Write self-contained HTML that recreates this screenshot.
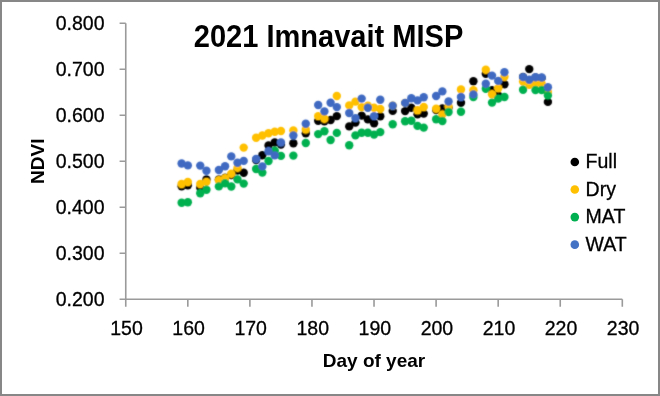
<!DOCTYPE html>
<html><head><meta charset="utf-8"><style>html,body{margin:0;padding:0;background:#fff;}svg{display:block;will-change:transform;}</style></head>
<body><svg width="660" height="396" viewBox="0 0 660 396">
<defs><filter id="bl" x="0" y="0" width="660" height="396" filterUnits="userSpaceOnUse"><feConvolveMatrix order="3" kernelMatrix="0.025 0.1 0.025 0.1 0.5 0.1 0.025 0.1 0.025"/></filter></defs>
<rect x="0" y="0" width="660" height="396" fill="#ffffff"/>
<rect x="1" y="1" width="658" height="394" fill="none" stroke="#878787" stroke-width="2"/>
<path d="M125.75 23.3V299.3H622.3" fill="none" stroke="#9a9a9a" stroke-width="1.6"/><path d="M119.6 299.30H125.75 M119.6 253.30H125.75 M119.6 207.30H125.75 M119.6 161.30H125.75 M119.6 115.30H125.75 M119.6 69.30H125.75 M119.6 23.30H125.75 M125.75 299.3V306.8 M187.82 299.3V306.8 M249.89 299.3V306.8 M311.96 299.3V306.8 M374.03 299.3V306.8 M436.10 299.3V306.8 M498.17 299.3V306.8 M560.24 299.3V306.8 M622.31 299.3V306.8" fill="none" stroke="#9a9a9a" stroke-width="1.6"/>
<g font-family="Liberation Sans, sans-serif" font-size="19.5" fill="#000" stroke="#000" stroke-width="0.3">
<text x="104.5" y="306.30" text-anchor="end">0.200</text><text x="104.5" y="260.30" text-anchor="end">0.300</text><text x="104.5" y="214.30" text-anchor="end">0.400</text><text x="104.5" y="168.30" text-anchor="end">0.500</text><text x="104.5" y="122.30" text-anchor="end">0.600</text><text x="104.5" y="76.30" text-anchor="end">0.700</text><text x="104.5" y="30.30" text-anchor="end">0.800</text>
<text x="126.55" y="334.6" text-anchor="middle">150</text><text x="188.62" y="334.6" text-anchor="middle">160</text><text x="250.69" y="334.6" text-anchor="middle">170</text><text x="312.76" y="334.6" text-anchor="middle">180</text><text x="374.83" y="334.6" text-anchor="middle">190</text><text x="436.90" y="334.6" text-anchor="middle">200</text><text x="498.97" y="334.6" text-anchor="middle">210</text><text x="561.04" y="334.6" text-anchor="middle">220</text><text x="623.11" y="334.6" text-anchor="middle">230</text>
<circle cx="574.8" cy="162.00" r="4.3" fill="#000000" stroke="none"/><text x="585.6" y="168.30">Full</text><circle cx="574.8" cy="189.55" r="4.3" fill="#FFC000" stroke="none"/><text x="585.6" y="195.85">Dry</text><circle cx="574.8" cy="217.10" r="4.3" fill="#00B050" stroke="none"/><text x="585.6" y="223.40">MAT</text><circle cx="574.8" cy="244.65" r="4.3" fill="#4472C4" stroke="none"/><text x="585.6" y="250.95">WAT</text>
</g>
<text transform="translate(0 47.1) scale(1 1.045) translate(0 -47.1)" x="193.8" y="47.1" textLength="269.5" lengthAdjust="spacingAndGlyphs" font-family="Liberation Sans, sans-serif" font-weight="bold" font-size="29.3" fill="#000">2021 Imnavait MISP</text>
<text x="374" y="366.6" text-anchor="middle" font-family="Liberation Sans, sans-serif" font-weight="bold" font-size="19" fill="#000">Day of year</text>
<text transform="translate(43.6 161.2) rotate(-90)" text-anchor="middle" font-family="Liberation Sans, sans-serif" font-weight="bold" font-size="19" fill="#000">NDVI</text>
<g filter="url(#bl)">
<circle cx="181.62" cy="186.30" r="4.2" fill="#000000"/>
<circle cx="187.83" cy="185.20" r="4.2" fill="#000000"/>
<circle cx="200.25" cy="187.70" r="4.2" fill="#000000"/>
<circle cx="206.45" cy="179.50" r="4.2" fill="#000000"/>
<circle cx="218.87" cy="179.50" r="4.2" fill="#000000"/>
<circle cx="225.08" cy="177.60" r="4.2" fill="#000000"/>
<circle cx="231.29" cy="175.00" r="4.2" fill="#000000"/>
<circle cx="237.49" cy="170.50" r="4.2" fill="#000000"/>
<circle cx="243.70" cy="172.70" r="4.2" fill="#000000"/>
<circle cx="256.12" cy="160.00" r="4.2" fill="#000000"/>
<circle cx="262.33" cy="155.20" r="4.2" fill="#000000"/>
<circle cx="268.53" cy="145.50" r="4.2" fill="#000000"/>
<circle cx="274.74" cy="142.50" r="4.2" fill="#000000"/>
<circle cx="280.95" cy="144.50" r="4.2" fill="#000000"/>
<circle cx="293.37" cy="143.20" r="4.2" fill="#000000"/>
<circle cx="305.78" cy="133.20" r="4.2" fill="#000000"/>
<circle cx="318.20" cy="120.70" r="4.2" fill="#000000"/>
<circle cx="324.41" cy="121.20" r="4.2" fill="#000000"/>
<circle cx="330.61" cy="120.00" r="4.2" fill="#000000"/>
<circle cx="336.82" cy="116.10" r="4.2" fill="#000000"/>
<circle cx="349.24" cy="126.40" r="4.2" fill="#000000"/>
<circle cx="355.45" cy="122.50" r="4.2" fill="#000000"/>
<circle cx="361.65" cy="115.60" r="4.2" fill="#000000"/>
<circle cx="367.86" cy="119.40" r="4.2" fill="#000000"/>
<circle cx="374.07" cy="123.20" r="4.2" fill="#000000"/>
<circle cx="380.28" cy="116.20" r="4.2" fill="#000000"/>
<circle cx="392.69" cy="110.90" r="4.2" fill="#000000"/>
<circle cx="405.11" cy="111.10" r="4.2" fill="#000000"/>
<circle cx="411.32" cy="107.80" r="4.2" fill="#000000"/>
<circle cx="417.53" cy="114.20" r="4.2" fill="#000000"/>
<circle cx="423.73" cy="113.60" r="4.2" fill="#000000"/>
<circle cx="436.15" cy="110.00" r="4.2" fill="#000000"/>
<circle cx="442.36" cy="108.40" r="4.2" fill="#000000"/>
<circle cx="448.57" cy="107.80" r="4.2" fill="#000000"/>
<circle cx="460.98" cy="102.80" r="4.2" fill="#000000"/>
<circle cx="473.40" cy="81.30" r="4.2" fill="#000000"/>
<circle cx="485.81" cy="73.80" r="4.2" fill="#000000"/>
<circle cx="492.02" cy="90.30" r="4.2" fill="#000000"/>
<circle cx="498.23" cy="95.40" r="4.2" fill="#000000"/>
<circle cx="504.44" cy="84.20" r="4.2" fill="#000000"/>
<circle cx="523.06" cy="77.00" r="4.2" fill="#000000"/>
<circle cx="529.27" cy="69.10" r="4.2" fill="#000000"/>
<circle cx="535.48" cy="77.50" r="4.2" fill="#000000"/>
<circle cx="541.69" cy="78.00" r="4.2" fill="#000000"/>
<circle cx="547.89" cy="101.90" r="4.2" fill="#000000"/>
<circle cx="181.62" cy="184.00" r="4.2" fill="#FFC000"/>
<circle cx="187.83" cy="182.00" r="4.2" fill="#FFC000"/>
<circle cx="200.25" cy="184.00" r="4.2" fill="#FFC000"/>
<circle cx="206.45" cy="181.90" r="4.2" fill="#FFC000"/>
<circle cx="218.87" cy="180.20" r="4.2" fill="#FFC000"/>
<circle cx="225.08" cy="178.20" r="4.2" fill="#FFC000"/>
<circle cx="231.29" cy="173.70" r="4.2" fill="#FFC000"/>
<circle cx="237.49" cy="167.90" r="4.2" fill="#FFC000"/>
<circle cx="243.70" cy="147.60" r="4.2" fill="#FFC000"/>
<circle cx="256.12" cy="137.80" r="4.2" fill="#FFC000"/>
<circle cx="262.33" cy="135.50" r="4.2" fill="#FFC000"/>
<circle cx="268.53" cy="133.20" r="4.2" fill="#FFC000"/>
<circle cx="274.74" cy="131.70" r="4.2" fill="#FFC000"/>
<circle cx="280.95" cy="131.00" r="4.2" fill="#FFC000"/>
<circle cx="293.37" cy="130.40" r="4.2" fill="#FFC000"/>
<circle cx="305.78" cy="129.50" r="4.2" fill="#FFC000"/>
<circle cx="318.20" cy="116.10" r="4.2" fill="#FFC000"/>
<circle cx="324.41" cy="118.70" r="4.2" fill="#FFC000"/>
<circle cx="336.82" cy="96.00" r="4.2" fill="#FFC000"/>
<circle cx="349.24" cy="105.40" r="4.2" fill="#FFC000"/>
<circle cx="355.45" cy="101.60" r="4.2" fill="#FFC000"/>
<circle cx="361.65" cy="107.10" r="4.2" fill="#FFC000"/>
<circle cx="367.86" cy="105.80" r="4.2" fill="#FFC000"/>
<circle cx="374.07" cy="107.80" r="4.2" fill="#FFC000"/>
<circle cx="380.28" cy="108.90" r="4.2" fill="#FFC000"/>
<circle cx="392.69" cy="105.80" r="4.2" fill="#FFC000"/>
<circle cx="405.11" cy="102.90" r="4.2" fill="#FFC000"/>
<circle cx="417.53" cy="110.30" r="4.2" fill="#FFC000"/>
<circle cx="423.73" cy="107.00" r="4.2" fill="#FFC000"/>
<circle cx="436.15" cy="108.70" r="4.2" fill="#FFC000"/>
<circle cx="442.36" cy="114.40" r="4.2" fill="#FFC000"/>
<circle cx="448.57" cy="106.50" r="4.2" fill="#FFC000"/>
<circle cx="460.98" cy="89.50" r="4.2" fill="#FFC000"/>
<circle cx="473.40" cy="90.30" r="4.2" fill="#FFC000"/>
<circle cx="485.81" cy="69.80" r="4.2" fill="#FFC000"/>
<circle cx="492.02" cy="94.20" r="4.2" fill="#FFC000"/>
<circle cx="498.23" cy="88.20" r="4.2" fill="#FFC000"/>
<circle cx="504.44" cy="76.80" r="4.2" fill="#FFC000"/>
<circle cx="523.06" cy="81.60" r="4.2" fill="#FFC000"/>
<circle cx="529.27" cy="84.80" r="4.2" fill="#FFC000"/>
<circle cx="535.48" cy="83.50" r="4.2" fill="#FFC000"/>
<circle cx="541.69" cy="83.80" r="4.2" fill="#FFC000"/>
<circle cx="547.89" cy="92.00" r="4.2" fill="#FFC000"/>
<circle cx="181.62" cy="202.80" r="4.2" fill="#00B050"/>
<circle cx="187.83" cy="202.20" r="4.2" fill="#00B050"/>
<circle cx="200.25" cy="193.20" r="4.2" fill="#00B050"/>
<circle cx="206.45" cy="189.80" r="4.2" fill="#00B050"/>
<circle cx="218.87" cy="186.40" r="4.2" fill="#00B050"/>
<circle cx="225.08" cy="183.20" r="4.2" fill="#00B050"/>
<circle cx="231.29" cy="186.50" r="4.2" fill="#00B050"/>
<circle cx="237.49" cy="179.40" r="4.2" fill="#00B050"/>
<circle cx="243.70" cy="183.60" r="4.2" fill="#00B050"/>
<circle cx="256.12" cy="169.00" r="4.2" fill="#00B050"/>
<circle cx="262.33" cy="172.60" r="4.2" fill="#00B050"/>
<circle cx="268.53" cy="161.00" r="4.2" fill="#00B050"/>
<circle cx="274.74" cy="150.80" r="4.2" fill="#00B050"/>
<circle cx="280.95" cy="155.90" r="4.2" fill="#00B050"/>
<circle cx="293.37" cy="155.60" r="4.2" fill="#00B050"/>
<circle cx="305.78" cy="143.00" r="4.2" fill="#00B050"/>
<circle cx="318.20" cy="134.10" r="4.2" fill="#00B050"/>
<circle cx="324.41" cy="131.20" r="4.2" fill="#00B050"/>
<circle cx="330.61" cy="140.00" r="4.2" fill="#00B050"/>
<circle cx="336.82" cy="132.90" r="4.2" fill="#00B050"/>
<circle cx="349.24" cy="145.20" r="4.2" fill="#00B050"/>
<circle cx="355.45" cy="135.40" r="4.2" fill="#00B050"/>
<circle cx="361.65" cy="132.80" r="4.2" fill="#00B050"/>
<circle cx="367.86" cy="132.80" r="4.2" fill="#00B050"/>
<circle cx="374.07" cy="134.60" r="4.2" fill="#00B050"/>
<circle cx="380.28" cy="132.10" r="4.2" fill="#00B050"/>
<circle cx="392.69" cy="124.30" r="4.2" fill="#00B050"/>
<circle cx="405.11" cy="121.20" r="4.2" fill="#00B050"/>
<circle cx="411.32" cy="120.70" r="4.2" fill="#00B050"/>
<circle cx="417.53" cy="125.90" r="4.2" fill="#00B050"/>
<circle cx="423.73" cy="127.60" r="4.2" fill="#00B050"/>
<circle cx="436.15" cy="119.30" r="4.2" fill="#00B050"/>
<circle cx="442.36" cy="121.00" r="4.2" fill="#00B050"/>
<circle cx="448.57" cy="112.00" r="4.2" fill="#00B050"/>
<circle cx="460.98" cy="111.70" r="4.2" fill="#00B050"/>
<circle cx="473.40" cy="97.00" r="4.2" fill="#00B050"/>
<circle cx="485.81" cy="88.80" r="4.2" fill="#00B050"/>
<circle cx="492.02" cy="102.60" r="4.2" fill="#00B050"/>
<circle cx="498.23" cy="98.60" r="4.2" fill="#00B050"/>
<circle cx="504.44" cy="97.00" r="4.2" fill="#00B050"/>
<circle cx="523.06" cy="89.80" r="4.2" fill="#00B050"/>
<circle cx="535.48" cy="90.00" r="4.2" fill="#00B050"/>
<circle cx="541.69" cy="90.00" r="4.2" fill="#00B050"/>
<circle cx="547.89" cy="95.40" r="4.2" fill="#00B050"/>
<circle cx="181.62" cy="163.50" r="4.2" fill="#3F6BC2"/>
<circle cx="187.83" cy="165.40" r="4.2" fill="#3F6BC2"/>
<circle cx="200.25" cy="165.60" r="4.2" fill="#3F6BC2"/>
<circle cx="206.45" cy="170.80" r="4.2" fill="#3F6BC2"/>
<circle cx="218.87" cy="170.00" r="4.2" fill="#3F6BC2"/>
<circle cx="225.08" cy="166.20" r="4.2" fill="#3F6BC2"/>
<circle cx="231.29" cy="156.40" r="4.2" fill="#3F6BC2"/>
<circle cx="237.49" cy="162.80" r="4.2" fill="#3F6BC2"/>
<circle cx="243.70" cy="160.90" r="4.2" fill="#3F6BC2"/>
<circle cx="256.12" cy="159.00" r="4.2" fill="#3F6BC2"/>
<circle cx="262.33" cy="166.40" r="4.2" fill="#3F6BC2"/>
<circle cx="268.53" cy="151.30" r="4.2" fill="#3F6BC2"/>
<circle cx="274.74" cy="155.40" r="4.2" fill="#3F6BC2"/>
<circle cx="280.95" cy="142.50" r="4.2" fill="#3F6BC2"/>
<circle cx="293.37" cy="135.50" r="4.2" fill="#3F6BC2"/>
<circle cx="305.78" cy="123.80" r="4.2" fill="#3F6BC2"/>
<circle cx="318.20" cy="105.00" r="4.2" fill="#3F6BC2"/>
<circle cx="324.41" cy="111.40" r="4.2" fill="#3F6BC2"/>
<circle cx="330.61" cy="102.70" r="4.2" fill="#3F6BC2"/>
<circle cx="336.82" cy="107.10" r="4.2" fill="#3F6BC2"/>
<circle cx="349.24" cy="113.00" r="4.2" fill="#3F6BC2"/>
<circle cx="355.45" cy="118.10" r="4.2" fill="#3F6BC2"/>
<circle cx="361.65" cy="98.60" r="4.2" fill="#3F6BC2"/>
<circle cx="367.86" cy="107.70" r="4.2" fill="#3F6BC2"/>
<circle cx="374.07" cy="116.10" r="4.2" fill="#3F6BC2"/>
<circle cx="380.28" cy="99.70" r="4.2" fill="#3F6BC2"/>
<circle cx="392.69" cy="105.80" r="4.2" fill="#3F6BC2"/>
<circle cx="405.11" cy="102.90" r="4.2" fill="#3F6BC2"/>
<circle cx="411.32" cy="98.20" r="4.2" fill="#3F6BC2"/>
<circle cx="417.53" cy="100.40" r="4.2" fill="#3F6BC2"/>
<circle cx="423.73" cy="97.20" r="4.2" fill="#3F6BC2"/>
<circle cx="436.15" cy="96.00" r="4.2" fill="#3F6BC2"/>
<circle cx="442.36" cy="91.40" r="4.2" fill="#3F6BC2"/>
<circle cx="448.57" cy="101.50" r="4.2" fill="#3F6BC2"/>
<circle cx="460.98" cy="97.00" r="4.2" fill="#3F6BC2"/>
<circle cx="473.40" cy="94.40" r="4.2" fill="#3F6BC2"/>
<circle cx="485.81" cy="83.70" r="4.2" fill="#3F6BC2"/>
<circle cx="492.02" cy="75.60" r="4.2" fill="#3F6BC2"/>
<circle cx="498.23" cy="80.90" r="4.2" fill="#3F6BC2"/>
<circle cx="504.44" cy="72.20" r="4.2" fill="#3F6BC2"/>
<circle cx="523.06" cy="77.10" r="4.2" fill="#3F6BC2"/>
<circle cx="529.27" cy="79.80" r="4.2" fill="#3F6BC2"/>
<circle cx="535.48" cy="77.30" r="4.2" fill="#3F6BC2"/>
<circle cx="541.69" cy="77.50" r="4.2" fill="#3F6BC2"/>
<circle cx="547.89" cy="87.30" r="4.2" fill="#3F6BC2"/>
</g>
</svg></body></html>
